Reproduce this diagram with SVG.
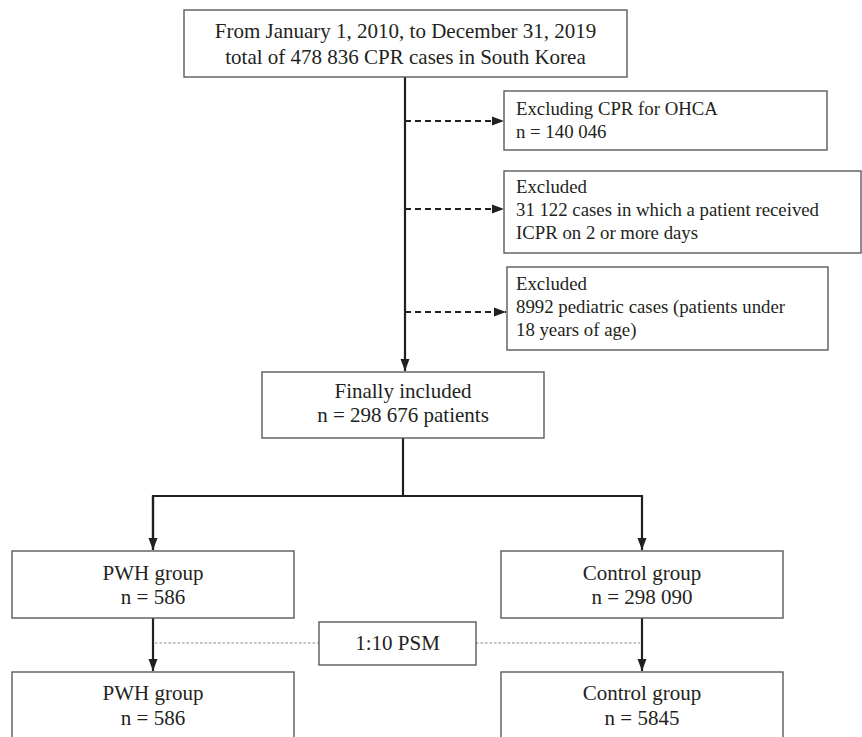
<svg xmlns="http://www.w3.org/2000/svg" width="862" height="737" viewBox="0 0 862 737">
<style>
.box{fill:#fff;stroke:#5a5a5a;stroke-width:1.4}
.t{font-family:"Liberation Serif","Times New Roman",serif;fill:#231f20}
.m{font-size:21px;text-anchor:middle}
.e{font-size:18.8px}
.solid{fill:none;stroke:#231f20;stroke-width:2.2}
.dash{fill:none;stroke:#231f20;stroke-width:2.2;stroke-dasharray:6 4}
.dot{fill:none;stroke:#8a8a8a;stroke-width:1.2;stroke-dasharray:2.5 2}
</style>
<defs>
<marker id="ah" markerUnits="userSpaceOnUse" markerWidth="12" markerHeight="12" viewBox="0 0 12 12" refX="12" refY="6" orient="auto">
<path d="M0,1.5 L12,6 L0,10.5 Z" fill="#231f20"/>
</marker>
</defs>
<rect width="862" height="737" fill="#fff"/>
<g id="connectors">
<line class="solid" x1="405" y1="77" x2="405" y2="371" marker-end="url(#ah)"/>
<line class="dash" x1="405" y1="121" x2="504" y2="121" marker-end="url(#ah)"/>
<line class="dash" x1="405" y1="209" x2="504" y2="209" marker-end="url(#ah)"/>
<line class="dash" x1="405" y1="312" x2="506" y2="312" marker-end="url(#ah)"/>
<polyline class="solid" points="403,438 403,496"/>
<polyline class="solid" points="153,550 153,496 642,496 642,550" marker-end="url(#ah)"/>
<line class="solid" x1="153" y1="496" x2="153" y2="550" marker-end="url(#ah)"/>
<line class="solid" x1="153" y1="618" x2="153" y2="671" marker-end="url(#ah)"/>
<line class="solid" x1="642" y1="618" x2="642" y2="671" marker-end="url(#ah)"/>
<line class="dot" x1="155" y1="643" x2="319" y2="643"/>
<line class="dot" x1="476" y1="643" x2="640" y2="643"/>
</g>
<g id="n-start">
<rect class="box" x="184" y="10" width="443" height="67"/>
<text class="t m" x="405.5" y="38">From January 1, 2010, to December 31, 2019</text>
<text class="t m" x="405.5" y="64">total of 478 836 CPR cases in South Korea</text>
</g>
<g id="n-ohca">
<rect class="box" x="504" y="91" width="323" height="59"/>
<text class="t e" x="516" y="115">Excluding CPR for OHCA</text>
<text class="t e" x="516" y="138">n = 140 046</text>
</g>
<g id="n-icpr">
<rect class="box" x="504" y="171" width="357" height="82"/>
<text class="t e" x="516" y="193">Excluded</text>
<text class="t e" x="516" y="216">31 122 cases in which a patient received</text>
<text class="t e" x="516" y="239">ICPR on 2 or more days</text>
</g>
<g id="n-pediatric">
<rect class="box" x="507" y="267" width="321" height="83"/>
<text class="t e" x="516" y="290">Excluded</text>
<text class="t e" x="516" y="313">8992 pediatric cases (patients under</text>
<text class="t e" x="516" y="336">18 years of age)</text>
</g>
<g id="n-final">
<rect class="box" x="262" y="372" width="282" height="66"/>
<text class="t m" x="403" y="398">Finally included</text>
<text class="t m" x="403" y="422">n = 298 676 patients</text>
</g>
<g id="n-pwh1">
<rect class="box" x="12" y="551" width="282" height="67"/>
<text class="t m" x="153" y="580">PWH group</text>
<text class="t m" x="153" y="604">n = 586</text>
</g>
<g id="n-ctrl1">
<rect class="box" x="501" y="551" width="282" height="67"/>
<text class="t m" x="642" y="580">Control group</text>
<text class="t m" x="642" y="604">n = 298 090</text>
</g>
<g id="n-psm">
<rect class="box" x="319" y="622" width="157" height="43"/>
<text class="t m" x="397.5" y="650">1:10 PSM</text>
</g>
<g id="n-pwh2">
<rect class="box" x="12" y="672" width="282" height="80"/>
<text class="t m" x="153" y="700">PWH group</text>
<text class="t m" x="153" y="725">n = 586</text>
</g>
<g id="n-ctrl2">
<rect class="box" x="501" y="672" width="282" height="80"/>
<text class="t m" x="642" y="700">Control group</text>
<text class="t m" x="642" y="725">n = 5845</text>
</g>
</svg>
